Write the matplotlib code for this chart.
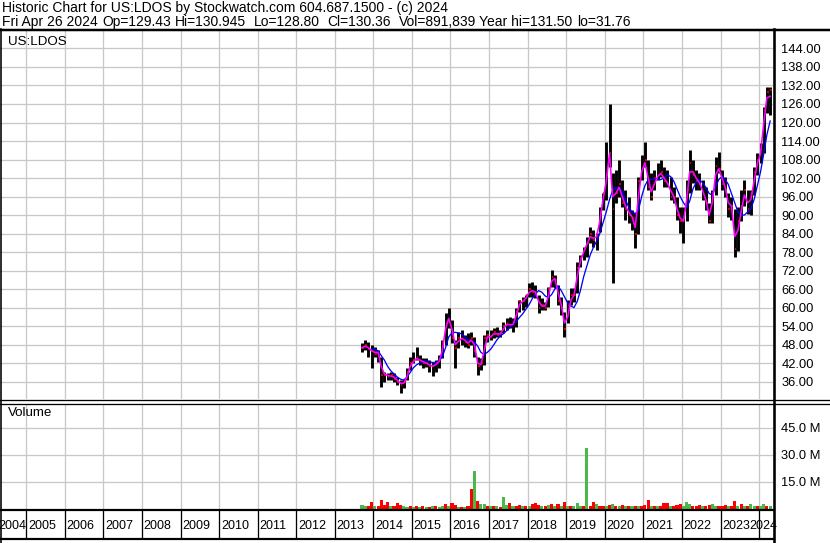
import matplotlib
matplotlib.use("Agg")
import matplotlib.pyplot as plt
from matplotlib.lines import Line2D
from matplotlib.ticker import FormatStrFormatter
import numpy as np
import pandas as pd

plt.rcParams["font.family"] = ["Liberation Sans", "DejaVu Sans"]

# monthly bars, Sep 2013 .. Apr 2024 (mid-month)
months = pd.date_range("2013-09-01", "2024-04-01", freq="MS") + pd.Timedelta(days=14)

price_high = [
    48.4, 49.5, 49.0, 47.9,
    47.3, 46.3, 44.1, 39.2, 38.7, 39.2, 38.7, 37.6, 36.5, 37.0, 40.3, 44.1,
    45.7, 47.3, 44.6, 43.6, 43.6, 43.0, 42.5, 43.0, 44.6, 49.5, 58.1, 59.8,
    56.0, 49.5, 52.2, 52.7, 51.1, 51.7, 52.2, 50.6, 44.1, 43.6, 51.0, 52.7,
    52.7, 53.3, 53.8, 52.7, 55.5, 56.5, 57.1, 56.5, 59.8, 62.5, 63.6, 64.1,
    67.9, 68.4, 67.3, 64.1, 63.0, 61.9, 66.8, 72.2, 70.6, 67.3, 63.6, 58.7,
    62.5, 66.3, 66.3, 74.9, 77.1, 79.8, 83.0, 86.2, 85.2, 84.1, 92.7, 97.0,
    113.8, 126.0, 103.5, 104.6, 107.8, 101.4, 98.1, 96.0, 91.6, 90.6, 102.4, 109.5,
    113.8, 107.8, 103.5, 104.6, 106.8, 107.8, 105.7, 104.6, 102.4, 99.2, 96.0, 92.7,
    92.7, 101.4, 111.1, 107.8, 104.6, 103.5, 101.4, 99.2, 93.8, 98.1, 108.9, 110.6,
    104.6, 102.4, 97.0, 96.0, 92.0, 92.7, 98.1, 101.4, 98.0, 98.1, 105.7, 110.0,
    113.2, 125.1, 131.6, 131.5,
]
price_low = [
    45.7, 46.3, 44.1, 40.3,
    44.1, 42.5, 34.4, 36.0, 36.5, 36.5, 36.0, 34.9, 32.2, 33.8, 36.5, 39.8,
    41.9, 43.0, 41.4, 40.3, 40.9, 39.2, 37.8, 39.2, 40.3, 43.6, 48.0, 53.5,
    48.4, 40.3, 46.8, 47.9, 47.3, 46.8, 47.9, 44.1, 38.1, 39.8, 41.5, 49.0,
    49.5, 50.0, 50.6, 50.6, 51.7, 52.7, 53.3, 52.2, 53.8, 58.7, 59.2, 60.3,
    63.6, 63.6, 63.0, 58.2, 59.2, 59.2, 60.3, 66.8, 66.3, 60.8, 57.6, 50.6,
    54.9, 60.8, 61.9, 64.6, 73.3, 75.4, 76.5, 80.8, 79.8, 78.7, 84.5, 91.6,
    94.9, 105.7, 67.9, 93.8, 96.0, 92.7, 88.4, 87.3, 85.2, 79.2, 84.0, 101.4,
    105.7, 98.1, 94.9, 98.1, 101.4, 102.4, 99.2, 99.2, 94.9, 93.8, 88.4, 84.1,
    80.8, 88.0, 97.0, 100.3, 98.1, 98.1, 94.9, 91.6, 87.3, 87.5, 96.5, 103.5,
    98.1, 96.0, 89.5, 88.4, 76.5, 78.5, 88.0, 93.0, 90.5, 90.0, 96.5, 103.0,
    106.8, 110.0, 123.0, 122.5,
]
price_close = [
    47.0, 48.0, 46.5, 46.0,
    45.0, 45.0, 38.0, 38.0, 37.5, 38.0, 37.0, 36.0, 35.0, 36.0, 39.0, 42.0,
    43.0, 44.0, 43.0, 42.0, 42.0, 41.0, 41.0, 42.0, 43.0, 49.0, 55.0, 56.0,
    50.0, 47.0, 50.0, 50.0, 49.0, 48.0, 50.0, 46.0, 41.0, 42.0, 50.0, 51.0,
    50.5, 52.0, 51.0, 51.5, 54.0, 55.0, 54.0, 55.0, 59.0, 62.0, 62.0, 64.0,
    66.0, 65.0, 65.0, 60.0, 61.0, 60.0, 66.0, 70.0, 69.0, 62.0, 60.0, 53.0,
    61.0, 64.0, 64.0, 73.0, 76.0, 79.0, 81.0, 84.0, 82.0, 83.0, 91.0, 97.0,
    103.0, 110.0, 92.0, 97.0, 100.0, 94.0, 92.0, 90.0, 89.0, 84.0, 101.0, 105.0,
    108.0, 99.0, 96.0, 102.0, 103.0, 104.0, 101.0, 100.0, 96.0, 96.0, 90.0, 88.0,
    89.0, 98.0, 107.0, 103.0, 101.0, 100.0, 97.0, 94.0, 88.0, 97.0, 106.0, 105.0,
    100.0, 98.0, 92.0, 93.0, 79.0, 88.0, 93.0, 98.0, 92.0, 97.0, 104.0, 108.0,
    111.0, 124.0, 130.0, 130.4,
]
# short moving average (magenta)
ma_short = [
    47.0, 47.5, 47.0, 46.0,
    45.5, 45.5, 41.0, 38.5, 38.0, 37.8, 37.5, 36.5, 35.5, 35.5, 37.5, 41.0,
    42.5, 43.5, 43.0, 42.5, 42.0, 41.5, 41.0, 41.5, 42.5, 46.0, 53.0, 56.5,
    53.0, 48.0, 49.0, 50.0, 49.5, 48.5, 49.5, 48.0, 42.0, 41.5, 46.0, 50.5,
    50.5, 51.5, 51.5, 51.5, 53.0, 54.5, 54.5, 54.5, 57.5, 61.0, 62.0, 63.0,
    65.0, 65.5, 65.0, 62.0, 60.5, 60.5, 63.5, 68.5, 69.5, 65.0, 61.0, 55.0,
    57.0, 62.5, 64.0, 70.0, 75.0, 78.0, 80.5, 83.0, 82.5, 83.0, 88.0, 95.0,
    101.0, 110.0, 96.0, 97.0, 99.0, 96.0, 93.0, 91.0, 89.5, 86.0, 96.0, 104.0,
    107.0, 102.0, 97.5, 100.0, 102.5, 103.5, 102.0, 100.5, 98.0, 96.0, 92.0, 89.0,
    88.0, 95.0, 104.0, 104.0, 102.0, 100.5, 98.0, 95.0, 90.0, 94.0, 103.0, 105.0,
    102.0, 99.0, 94.0, 93.0, 83.0, 85.0, 91.0, 96.5, 94.0, 95.0, 101.0, 106.5,
    110.0, 120.0, 128.0, 128.5,
]
# long moving average (blue)
ma_long = [
    np.nan, np.nan, np.nan, 46.5,
    46.5, 46.0, 44.5, 43.0, 41.0, 39.5, 38.5, 37.5, 36.8, 36.5, 37.5, 39.0,
    40.5, 41.5, 42.0, 42.5, 42.8, 42.5, 42.2, 42.3, 42.8, 44.0, 47.0, 50.5,
    51.8, 52.0, 51.8, 51.5, 50.5, 49.5, 49.2, 48.8, 47.5, 45.5, 44.8, 45.5,
    46.5, 48.0, 49.5, 50.8, 51.5, 52.5, 53.5, 54.5, 55.5, 56.8, 58.0, 59.5,
    61.0, 63.0, 64.5, 65.5, 65.0, 63.8, 63.2, 64.2, 66.0, 67.0, 65.5, 63.5,
    61.5, 60.5, 60.0, 62.0, 65.5, 70.0, 73.5, 77.0, 79.5, 81.5, 84.0, 87.5,
    91.0, 95.0, 98.0, 98.8, 99.0, 97.5, 95.0, 92.5, 91.0, 90.5, 91.5, 96.0,
    99.5, 101.5, 101.5, 101.8, 101.5, 101.5, 102.0, 103.0, 102.5, 101.0, 98.5, 96.0,
    94.0, 92.5, 94.5, 98.5, 100.5, 101.5, 100.5, 99.0, 97.0, 96.5, 99.0, 101.5,
    102.5, 101.5, 100.0, 97.0, 94.0, 91.0, 90.0, 90.0, 91.0, 92.0, 95.0, 99.5,
    104.0, 110.0, 116.0, 120.5,
]
# volume in millions, "g" = up, "r" = down
volume = [
    2.2, 1.8, 1.5, 4.0,
    1.8, 1.5, 5.0, 2.0, 4.0, 1.6, 1.4, 3.5, 2.0, 1.5, 1.3, 1.4,
    1.3, 1.5, 1.2, 1.4, 1.2, 1.3, 1.6, 1.5, 1.3, 1.8, 2.5, 1.6,
    3.3, 2.0, 1.3, 1.2, 1.3, 1.4, 11.0, 21.0, 4.5, 3.0, 2.5, 1.8,
    1.6, 1.4, 1.5, 1.3, 6.9, 2.0, 3.5, 1.5, 1.6, 2.0, 1.8, 1.5,
    1.6, 2.5, 3.3, 2.0, 1.8, 1.5, 2.2, 2.8, 1.6, 2.5, 1.7, 4.0,
    1.8, 1.6, 1.5, 3.5, 1.5, 1.8, 34.0, 1.6, 4.0, 3.0, 1.6, 1.5,
    1.8, 2.0, 2.6, 1.5, 1.4, 2.3, 1.6, 1.5, 1.4, 1.6, 1.8, 1.5,
    2.0, 5.0, 1.6, 1.5, 1.4, 1.5, 3.5, 3.5, 1.5, 1.6, 2.0, 2.8,
    1.6, 4.0, 3.0, 1.5, 1.6, 2.2, 1.5, 1.6, 2.0, 2.5, 1.8, 1.5,
    1.6, 2.0, 1.5, 1.4, 4.5, 1.8, 3.0, 1.6, 1.8, 2.6, 1.6, 1.5,
    1.6, 2.8, 1.8, 1.5,
]
vol_dir = list(
    "ggrr"
    "grrrrgrrrggr"
    "grgrgrgrggrg"
    "rrgrgrrgrggr"
    "grgrggrgrrgr"
    "grrrgrgrgrgr"
    "grgggrgrrgrr"
    "grgrgrgrgrgr"
    "rrgrgrrrgrrr"
    "gggrrrgrrggr"
    "rrgrrgrgrggr"
    "ggrg"
)

year_ticks = pd.date_range("2005-01-01", "2024-01-01", freq="YS")
year_labels = [str(y) for y in range(2004, 2025)]
price_ticks = list(range(36, 145, 6))
vol_ticks = [15, 30, 45]

W, H = 830, 543


def fx(px):
    return px / W


def fy(py):
    return 1 - py / H


x0 = pd.Timestamp("2004-04-27")
x1 = pd.Timestamp("2024-05-12")
grid_c = "#c8c8c8"
px = 0.72  # one pixel in points

fig = plt.figure(figsize=(W / 100, H / 100), dpi=100)
ax_p = fig.add_axes([0, fy(399), fx(773), (399 - 31) / H])
ax_v = fig.add_axes([0, fy(509), fx(773), (509 - 404) / H])
ax_y = fig.add_axes([0, fy(538), fx(773), (538 - 510) / H])

for ax in (ax_p, ax_v, ax_y):
    ax.set_xlim(x0, x1)
    for s in ax.spines.values():
        s.set_visible(False)
    ax.set_xticks(year_ticks)
    ax.tick_params(length=0, labelbottom=False, labelleft=False)

# price panel
ax_p.set_ylim(30.38, 149.66)
ax_p.set_yticks(price_ticks)
ax_p.yaxis.set_major_formatter(FormatStrFormatter("%.2f"))
ax_p.tick_params(axis="y", labelright=True, pad=6, labelsize=9.3)
ax_p.grid(True, color=grid_c, lw=1.3 * px)
ax_p.set_axisbelow(True)
ax_p.vlines(months, price_low, price_high, color="black", lw=2.9 * px, zorder=3)
ax_p.hlines(price_close, months, months + pd.Timedelta(days=17),
            color="red", lw=1.6 * px, zorder=4)
ax_p.plot(months, ma_long, color="blue", lw=1.3 * px, zorder=5)
ax_p.plot(months, ma_short, color="magenta", lw=1.6 * px, zorder=6)
ax_p.text(8 / 773, 1 - 11 / 368, "US:LDOS", transform=ax_p.transAxes,
          fontsize=9.6, va="center", ha="left")

# volume panel
ax_v.set_ylim(0, 58.3)
ax_v.set_yticks(vol_ticks)
ax_v.set_yticklabels([f"{v:.1f} M" for v in vol_ticks])
ax_v.tick_params(axis="y", labelright=True, pad=6, labelsize=9.3)
ax_v.grid(True, color=grid_c, lw=1.3 * px)
ax_v.set_axisbelow(True)
colors = ["#4cb84c" if d == "g" else "#ff0000" for d in vol_dir]
ax_v.bar(months, volume, width=29, color=colors, zorder=3)
ax_v.text(8 / 773, 1 - 9 / 105, "Volume", transform=ax_v.transAxes,
          fontsize=9.6, va="center", ha="left")

# year strip
ax_y.set_ylim(0, 1)
ax_y.grid(False)
ax_y.vlines(year_ticks, 0, 1, color="black", lw=1.3 * px)
starts = [x0] + list(year_ticks)
for i, lab in enumerate(year_labels):
    if i == len(year_labels) - 1:
        ax_y.annotate(lab, xy=(1, 0.42), xycoords="axes fraction",
                      xytext=(3.4, 0), textcoords="offset points",
                      ha="right", va="center", fontsize=9, annotation_clip=False)
    else:
        ax_y.annotate(lab, xy=(starts[i], 0.42), xycoords=("data", "axes fraction"),
                      xytext=(1.3 if i else -1, 0), textcoords="offset points",
                      ha="left", va="center", fontsize=9, annotation_clip=False)

# header
fig.text(fx(2), fy(8), "Historic Chart for US:LDOS by Stockwatch.com 604.687.1500 - (c) 2024",
         fontsize=10, va="center", ha="left")
fields = ["Fri Apr 26 2024", "Op=129.43", "Hi=130.945", "Lo=128.80", "Cl=130.36",
          "Vol=891,839", "Year hi=131.50", "lo=31.76"]
field_x = [2, 102, 175, 254, 327, 399, 479, 577]
for f, x in zip(fields, field_x):
    fig.text(fx(x), fy(22), f, fontsize=10, va="center", ha="left")


# frame lines
def hline(y, xa, xb, lw):
    fig.add_artist(Line2D([fx(xa), fx(xb)], [fy(y), fy(y)], color="black", lw=lw * px))


def vline(x, ya, yb, lw):
    fig.add_artist(Line2D([fx(x), fx(x)], [fy(ya), fy(yb)], color="black", lw=lw * px))


hline(30, 0, W, 2.5)
hline(399.5, 0, W, 1.3)
hline(403.5, 0, W, 1.3)
hline(509.5, 0, 774, 2.2)
hline(538.5, 0, 774, 2.2)
vline(774, 29, H, 2.6)
vline(0.6, 29, H, 1.6)

fig.savefig("out.png", dpi=100)
